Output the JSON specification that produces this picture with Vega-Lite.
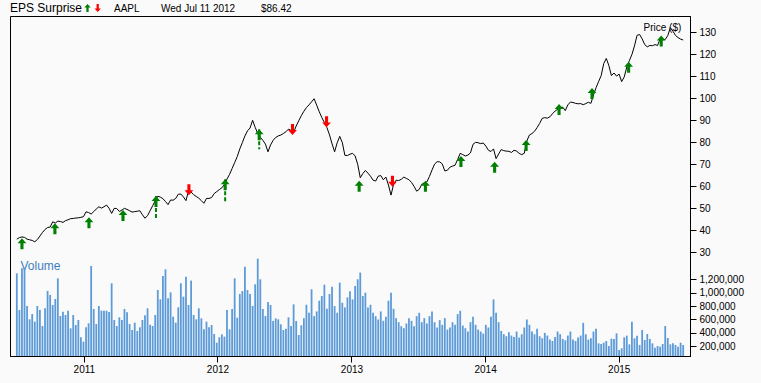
{
"$schema": "https://vega.github.io/schema/vega-lite/v6.json",
"width": 680, "height": 340,
"autosize": {"type": "none"},
"padding": {"left": 10, "top": 16, "right": 71, "bottom": 27},
"background": "#fafafa",
"config": {
 "view": {"stroke": "#000", "strokeWidth": 1},
 "font": "Liberation Sans",
 "axis": {"labelFont": "Liberation Sans", "labelFontSize": 10, "labelColor": "#000", "tickColor": "#000", "domainColor": "#000", "tickSize": 6, "labelPadding": 3, "grid": false, "titleFont": "Liberation Sans", "titleFontWeight": "normal"}
},
"datasets": {
"weekly": [
{"date":"2010-07-02","close":36.0,"volume":1289000},
{"date":"2010-07-09","close":36.7,"volume":742000},
{"date":"2010-07-16","close":37.0,"volume":1364000},
{"date":"2010-07-23","close":36.8,"volume":1374000},
{"date":"2010-07-30","close":36.0,"volume":801500},
{"date":"2010-08-06","close":35.7,"volume":602500},
{"date":"2010-08-13","close":35.4,"volume":682000},
{"date":"2010-08-20","close":34.8,"volume":568000},
{"date":"2010-08-27","close":35.8,"volume":801500},
{"date":"2010-09-03","close":37.4,"volume":742000},
{"date":"2010-09-10","close":39.0,"volume":503000},
{"date":"2010-09-17","close":40.4,"volume":767000},
{"date":"2010-09-24","close":41.3,"volume":1025000},
{"date":"2010-10-01","close":41.5,"volume":966000},
{"date":"2010-10-08","close":43.9,"volume":816000},
{"date":"2010-10-15","close":43.3,"volume":906000},
{"date":"2010-10-22","close":44.2,"volume":1214000},
{"date":"2010-10-29","close":44.0,"volume":652000},
{"date":"2010-11-05","close":43.6,"volume":717000},
{"date":"2010-11-12","close":44.4,"volume":667000},
{"date":"2010-11-19","close":44.8,"volume":732000},
{"date":"2010-11-26","close":45.3,"volume":468000},
{"date":"2010-12-03","close":45.4,"volume":667000},
{"date":"2010-12-10","close":45.6,"volume":518000},
{"date":"2010-12-17","close":45.7,"volume":592500},
{"date":"2010-12-24","close":45.9,"volume":334000},
{"date":"2010-12-31","close":46.2,"volume":269000},
{"date":"2011-01-07","close":48.4,"volume":483000},
{"date":"2011-01-14","close":48.1,"volume":543000},
{"date":"2011-01-21","close":47.4,"volume":1398500},
{"date":"2011-01-28","close":48.5,"volume":757000},
{"date":"2011-02-04","close":49.7,"volume":533000},
{"date":"2011-02-11","close":50.7,"volume":801500},
{"date":"2011-02-18","close":50.1,"volume":732000},
{"date":"2011-02-25","close":50.7,"volume":732000},
{"date":"2011-03-04","close":51.5,"volume":732000},
{"date":"2011-03-11","close":50.0,"volume":712000},
{"date":"2011-03-18","close":47.7,"volume":1140000},
{"date":"2011-03-25","close":50.0,"volume":592500},
{"date":"2011-04-01","close":49.9,"volume":503000},
{"date":"2011-04-08","close":48.6,"volume":632000},
{"date":"2011-04-15","close":49.2,"volume":592500},
{"date":"2011-04-22","close":50.0,"volume":757000},
{"date":"2011-04-29","close":49.5,"volume":707000},
{"date":"2011-05-06","close":48.9,"volume":533000},
{"date":"2011-05-13","close":48.3,"volume":443000},
{"date":"2011-05-20","close":48.5,"volume":553000},
{"date":"2011-05-27","close":48.7,"volume":428000},
{"date":"2011-06-03","close":48.9,"volume":483000},
{"date":"2011-06-10","close":47.1,"volume":592500},
{"date":"2011-06-17","close":45.5,"volume":662000},
{"date":"2011-06-24","close":46.7,"volume":767000},
{"date":"2011-07-01","close":48.9,"volume":523000},
{"date":"2011-07-08","close":51.2,"volume":503000},
{"date":"2011-07-15","close":53.4,"volume":667000},
{"date":"2011-07-22","close":55.5,"volume":1040000},
{"date":"2011-07-29","close":55.1,"volume":901000},
{"date":"2011-08-05","close":54.4,"volume":1249000},
{"date":"2011-08-12","close":53.1,"volume":1349000},
{"date":"2011-08-19","close":51.7,"volume":916000},
{"date":"2011-08-26","close":53.8,"volume":1005500},
{"date":"2011-09-02","close":53.7,"volume":642000},
{"date":"2011-09-09","close":54.5,"volume":553000},
{"date":"2011-09-16","close":56.4,"volume":782000},
{"date":"2011-09-23","close":56.5,"volume":1140000},
{"date":"2011-09-30","close":55.2,"volume":941000},
{"date":"2011-10-07","close":53.5,"volume":1239000},
{"date":"2011-10-14","close":58.0,"volume":816000},
{"date":"2011-10-21","close":57.4,"volume":1180000},
{"date":"2011-10-28","close":56.2,"volume":667000},
{"date":"2011-11-04","close":55.4,"volume":602500},
{"date":"2011-11-11","close":54.6,"volume":767000},
{"date":"2011-11-18","close":53.5,"volume":617000},
{"date":"2011-11-25","close":52.3,"volume":453000},
{"date":"2011-12-02","close":54.5,"volume":568000},
{"date":"2011-12-09","close":54.5,"volume":483000},
{"date":"2011-12-16","close":54.9,"volume":518000},
{"date":"2011-12-23","close":56.7,"volume":384000},
{"date":"2011-12-30","close":57.6,"volume":254000},
{"date":"2012-01-06","close":58.5,"volume":334000},
{"date":"2012-01-13","close":59.3,"volume":379000},
{"date":"2012-01-20","close":60.8,"volume":344000},
{"date":"2012-01-27","close":63.3,"volume":742000},
{"date":"2012-02-03","close":65.4,"volume":453000},
{"date":"2012-02-10","close":68.1,"volume":757000},
{"date":"2012-02-17","close":70.8,"volume":1214000},
{"date":"2012-02-24","close":73.5,"volume":627000},
{"date":"2012-03-02","close":77.0,"volume":981000},
{"date":"2012-03-09","close":79.9,"volume":1025000},
{"date":"2012-03-16","close":82.9,"volume":1388500},
{"date":"2012-03-23","close":85.2,"volume":1040000},
{"date":"2012-03-30","close":86.5,"volume":981000},
{"date":"2012-04-06","close":90.0,"volume":801500},
{"date":"2012-04-13","close":86.8,"volume":1125000},
{"date":"2012-04-20","close":84.0,"volume":1508000},
{"date":"2012-04-27","close":82.3,"volume":1199500},
{"date":"2012-05-04","close":80.9,"volume":757000},
{"date":"2012-05-11","close":79.2,"volume":652000},
{"date":"2012-05-18","close":75.7,"volume":861000},
{"date":"2012-05-25","close":78.8,"volume":816000},
{"date":"2012-06-01","close":80.9,"volume":578000},
{"date":"2012-06-08","close":82.2,"volume":617000},
{"date":"2012-06-15","close":82.9,"volume":602500},
{"date":"2012-06-22","close":83.3,"volume":528000},
{"date":"2012-06-29","close":84.0,"volume":443000},
{"date":"2012-07-06","close":84.8,"volume":463000},
{"date":"2012-07-13","close":86.0,"volume":632000},
{"date":"2012-07-20","close":85.4,"volume":503000},
{"date":"2012-07-27","close":84.5,"volume":826000},
{"date":"2012-08-03","close":87.4,"volume":578000},
{"date":"2012-08-10","close":89.8,"volume":369000},
{"date":"2012-08-17","close":92.1,"volume":513000},
{"date":"2012-08-24","close":94.1,"volume":620000},
{"date":"2012-08-31","close":95.8,"volume":820000},
{"date":"2012-09-07","close":97.0,"volume":700000},
{"date":"2012-09-14","close":98.4,"volume":1050000},
{"date":"2012-09-21","close":99.8,"volume":650000},
{"date":"2012-09-28","close":96.9,"volume":720000},
{"date":"2012-10-05","close":93.9,"volume":880000},
{"date":"2012-10-12","close":91.3,"volume":950000},
{"date":"2012-10-19","close":89.0,"volume":1120000},
{"date":"2012-10-26","close":86.7,"volume":760000},
{"date":"2012-11-02","close":83.4,"volume":980000},
{"date":"2012-11-09","close":79.3,"volume":1090000},
{"date":"2012-11-16","close":75.7,"volume":800000},
{"date":"2012-11-23","close":79.8,"volume":700000},
{"date":"2012-11-30","close":82.7,"volume":1150000},
{"date":"2012-12-07","close":79.9,"volume":850000},
{"date":"2012-12-14","close":74.1,"volume":780000},
{"date":"2012-12-21","close":74.0,"volume":930000},
{"date":"2012-12-28","close":74.6,"volume":1020000},
{"date":"2013-01-04","close":75.0,"volume":900000},
{"date":"2013-01-11","close":73.8,"volume":1100000},
{"date":"2013-01-18","close":70.0,"volume":1200000},
{"date":"2013-01-25","close":63.9,"volume":1300000},
{"date":"2013-02-01","close":65.8,"volume":950000},
{"date":"2013-02-08","close":67.2,"volume":1000000},
{"date":"2013-02-15","close":66.0,"volume":780000},
{"date":"2013-02-22","close":64.6,"volume":820000},
{"date":"2013-03-01","close":62.8,"volume":700000},
{"date":"2013-03-08","close":62.4,"volume":650000},
{"date":"2013-03-15","close":64.6,"volume":600000},
{"date":"2013-03-22","close":64.9,"volume":720000},
{"date":"2013-03-29","close":63.0,"volume":580000},
{"date":"2013-04-05","close":64.2,"volume":640000},
{"date":"2013-04-12","close":60.6,"volume":880000},
{"date":"2013-04-19","close":56.0,"volume":1000000},
{"date":"2013-04-26","close":60.9,"volume":760000},
{"date":"2013-05-03","close":62.8,"volume":620000},
{"date":"2013-05-10","close":62.6,"volume":560000},
{"date":"2013-05-17","close":63.2,"volume":500000},
{"date":"2013-05-24","close":64.2,"volume":470000},
{"date":"2013-05-31","close":63.6,"volume":540000},
{"date":"2013-06-07","close":63.0,"volume":620000},
{"date":"2013-06-14","close":61.8,"volume":580000},
{"date":"2013-06-21","close":60.0,"volume":500000},
{"date":"2013-06-28","close":57.8,"volume":650000},
{"date":"2013-07-05","close":58.6,"volume":700000},
{"date":"2013-07-12","close":60.9,"volume":560000},
{"date":"2013-07-19","close":61.6,"volume":620000},
{"date":"2013-07-26","close":62.0,"volume":540000},
{"date":"2013-08-02","close":64.5,"volume":650000},
{"date":"2013-08-09","close":67.4,"volume":720000},
{"date":"2013-08-16","close":70.1,"volume":560000},
{"date":"2013-08-23","close":71.2,"volume":480000},
{"date":"2013-08-30","close":71.1,"volume":590000},
{"date":"2013-09-06","close":70.2,"volume":520000},
{"date":"2013-09-13","close":67.0,"volume":620000},
{"date":"2013-09-20","close":67.3,"volume":450000},
{"date":"2013-09-27","close":68.7,"volume":480000},
{"date":"2013-10-04","close":69.2,"volume":560000},
{"date":"2013-10-11","close":69.6,"volume":520000},
{"date":"2013-10-18","close":72.2,"volume":680000},
{"date":"2013-10-25","close":75.0,"volume":730000},
{"date":"2013-11-01","close":74.4,"volume":510000},
{"date":"2013-11-08","close":73.8,"volume":470000},
{"date":"2013-11-15","close":74.2,"volume":420000},
{"date":"2013-11-22","close":75.2,"volume":560000},
{"date":"2013-11-29","close":79.1,"volume":640000},
{"date":"2013-12-06","close":80.0,"volume":520000},
{"date":"2013-12-13","close":79.8,"volume":450000},
{"date":"2013-12-20","close":79.4,"volume":420000},
{"date":"2013-12-27","close":79.7,"volume":390000},
{"date":"2014-01-03","close":78.3,"volume":520000},
{"date":"2014-01-10","close":76.4,"volume":480000},
{"date":"2014-01-17","close":75.8,"volume":640000},
{"date":"2014-01-24","close":77.0,"volume":900000},
{"date":"2014-01-31","close":72.6,"volume":700000},
{"date":"2014-02-07","close":74.7,"volume":560000},
{"date":"2014-02-14","close":76.7,"volume":430000},
{"date":"2014-02-21","close":76.2,"volume":380000},
{"date":"2014-02-28","close":76.0,"volume":350000},
{"date":"2014-03-07","close":75.9,"volume":410000},
{"date":"2014-03-14","close":75.4,"volume":360000},
{"date":"2014-03-21","close":76.4,"volume":340000},
{"date":"2014-03-28","close":76.0,"volume":420000},
{"date":"2014-04-04","close":75.0,"volume":330000},
{"date":"2014-04-11","close":74.4,"volume":380000},
{"date":"2014-04-18","close":75.0,"volume":480000},
{"date":"2014-04-25","close":80.6,"volume":600000},
{"date":"2014-05-02","close":83.3,"volume":520000},
{"date":"2014-05-09","close":84.0,"volume":420000},
{"date":"2014-05-16","close":85.0,"volume":380000},
{"date":"2014-05-23","close":86.7,"volume":460000},
{"date":"2014-05-30","close":88.6,"volume":350000},
{"date":"2014-06-06","close":90.9,"volume":320000},
{"date":"2014-06-13","close":91.2,"volume":400000},
{"date":"2014-06-20","close":91.0,"volume":360000},
{"date":"2014-06-27","close":91.6,"volume":300000},
{"date":"2014-07-04","close":93.0,"volume":280000},
{"date":"2014-07-11","close":94.2,"volume":340000},
{"date":"2014-07-18","close":95.0,"volume":420000},
{"date":"2014-07-25","close":95.7,"volume":380000},
{"date":"2014-08-01","close":96.0,"volume":310000},
{"date":"2014-08-08","close":94.4,"volume":290000},
{"date":"2014-08-15","close":97.0,"volume":360000},
{"date":"2014-08-22","close":98.3,"volume":420000},
{"date":"2014-08-29","close":98.1,"volume":300000},
{"date":"2014-09-05","close":97.7,"volume":280000},
{"date":"2014-09-12","close":97.5,"volume":330000},
{"date":"2014-09-19","close":97.6,"volume":360000},
{"date":"2014-09-26","close":97.1,"volume":550000},
{"date":"2014-10-03","close":97.6,"volume":380000},
{"date":"2014-10-10","close":98.2,"volume":300000},
{"date":"2014-10-17","close":97.7,"volume":320000},
{"date":"2014-10-24","close":101.5,"volume":420000},
{"date":"2014-10-31","close":104.8,"volume":460000},
{"date":"2014-11-07","close":107.6,"volume":244000},
{"date":"2014-11-14","close":110.3,"volume":234000},
{"date":"2014-11-21","close":115.8,"volume":254000},
{"date":"2014-11-28","close":118.1,"volume":279000},
{"date":"2014-12-05","close":114.9,"volume":204000},
{"date":"2014-12-12","close":110.3,"volume":314000},
{"date":"2014-12-19","close":111.5,"volume":309000},
{"date":"2014-12-26","close":110.1,"volume":393000},
{"date":"2015-01-02","close":111.0,"volume":145000},
{"date":"2015-01-09","close":107.6,"volume":170000},
{"date":"2015-01-16","close":109.7,"volume":334000},
{"date":"2015-01-23","close":114.2,"volume":359000},
{"date":"2015-01-30","close":117.1,"volume":229000},
{"date":"2015-02-06","close":119.9,"volume":568000},
{"date":"2015-02-13","close":123.8,"volume":319000},
{"date":"2015-02-20","close":128.6,"volume":359000},
{"date":"2015-02-27","close":129.0,"volume":219000},
{"date":"2015-03-06","close":127.0,"volume":443000},
{"date":"2015-03-13","close":124.4,"volume":294000},
{"date":"2015-03-20","close":123.4,"volume":384000},
{"date":"2015-03-27","close":124.0,"volume":309000},
{"date":"2015-04-03","close":123.9,"volume":244000},
{"date":"2015-04-10","close":124.4,"volume":180000},
{"date":"2015-04-17","close":124.0,"volume":204000},
{"date":"2015-04-24","close":127.0,"volume":194000},
{"date":"2015-05-01","close":126.6,"volume":234000},
{"date":"2015-05-08","close":126.7,"volume":503000},
{"date":"2015-05-15","close":128.5,"volume":324000},
{"date":"2015-05-22","close":132.1,"volume":229000},
{"date":"2015-05-29","close":130.5,"volume":244000},
{"date":"2015-06-05","close":128.6,"volume":219000},
{"date":"2015-06-12","close":127.6,"volume":194000},
{"date":"2015-06-19","close":126.9,"volume":254000},
{"date":"2015-06-26","close":126.5,"volume":219000}
],
"eps": [
{"date":"2010-07-16","price":36.4,"dir":"up"},
{"date":"2010-10-14","price":43.2,"dir":"up"},
{"date":"2011-01-15","price":45.9,"dir":"up"},
{"date":"2011-04-18","price":49.2,"dir":"up"},
{"date":"2011-07-17","price":55.6,"dir":"up","low":44.7},
{"date":"2011-10-15","price":56.0,"dir":"down"},
{"date":"2012-01-22","price":63.2,"dir":"up","low":52.3},
{"date":"2012-04-24","price":85.9,"dir":"up","low":76.8},
{"date":"2012-07-24","price":83.3,"dir":"down"},
{"date":"2012-10-25","price":86.8,"dir":"down"},
{"date":"2013-01-22","price":62.5,"dir":"up"},
{"date":"2013-04-23","price":59.8,"dir":"down"},
{"date":"2013-07-22","price":62.5,"dir":"up"},
{"date":"2013-10-27","price":73.8,"dir":"up"},
{"date":"2014-01-27","price":71.2,"dir":"up"},
{"date":"2014-04-23","price":81.0,"dir":"up"},
{"date":"2014-07-22","price":97.4,"dir":"up"},
{"date":"2014-10-20","price":104.7,"dir":"up"},
{"date":"2015-01-28","price":116.6,"dir":"up"},
{"date":"2015-04-27","price":128.5,"dir":"up"}
],
"header": [
{"title":"EPS Surprise","symbol":"AAPL","day":"Wed Jul 11 2012","close":86.42}
]
},
"layer": [
{
 "data": {"name": "weekly"},
 "mark": {"type": "bar", "width": 1.8, "color": "#5d9bd8"},
 "encoding": {
  "x": {"field": "date", "type": "temporal",
   "scale": {"type": "utc", "domain": [{"year": 2010, "month": 6, "date": 27, "utc": true}, {"year": 2015, "month": 7, "date": 1, "utc": true}]},
   "axis": {"values": [{"year": 2011, "month": 1, "date": 1, "utc": true}, {"year": 2012, "month": 1, "date": 1, "utc": true}, {"year": 2013, "month": 1, "date": 1, "utc": true}, {"year": 2014, "month": 1, "date": 1, "utc": true}, {"year": 2015, "month": 1, "date": 1, "utc": true}], "format": "%Y", "title": null, "labelPadding": 2}},
  "y": {"field": "volume", "type": "quantitative",
   "scale": {"domain": [55000, 5129627], "zero": false, "nice": false},
   "axis": {"orient": "right", "values": [200000, 400000, 600000, 800000, 1000000, 1200000], "format": ",d", "title": "Volume", "titleAngle": 0, "titleX": -670, "titleY": 249, "titleAlign": "left", "titleBaseline": "middle", "titleColor": "#3c7fc2", "titleFontSize": 12}},
  "y2": {"datum": 55000}
 }
},
{
 "layer": [
  {
   "data": {"name": "weekly"},
   "mark": {"type": "line", "color": "#000", "strokeWidth": 1},
   "encoding": {
    "x": {"field": "date", "type": "temporal",
     "axis": {"values": [{"year": 2011, "month": 1, "date": 1, "utc": true}, {"year": 2012, "month": 1, "date": 1, "utc": true}, {"year": 2013, "month": 1, "date": 1, "utc": true}, {"year": 2014, "month": 1, "date": 1, "utc": true}, {"year": 2015, "month": 1, "date": 1, "utc": true}], "format": "%Y", "title": null, "labelPadding": 2}},
    "y": {"field": "close", "type": "quantitative",
     "scale": {"domain": [-17.1, 137.4], "zero": false, "nice": false},
     "axis": {"orient": "right", "values": [30, 40, 50, 60, 70, 80, 90, 100, 110, 120, 130], "title": "Price ($)", "titleAngle": 0, "titleX": -47, "titleY": 11, "titleAlign": "left", "titleBaseline": "middle", "titleFontSize": 10, "titleColor": "#000"}}
   }
  },
  {
   "data": {"name": "eps"},
   "transform": [{"filter": "isValid(datum.low)"}],
   "mark": {"type": "rule", "color": "#008000", "strokeWidth": 2, "strokeDash": [4, 2]},
   "encoding": {
    "x": {"field": "date", "type": "temporal",
     "axis": {"values": [{"year": 2011, "month": 1, "date": 1, "utc": true}, {"year": 2012, "month": 1, "date": 1, "utc": true}, {"year": 2013, "month": 1, "date": 1, "utc": true}, {"year": 2014, "month": 1, "date": 1, "utc": true}, {"year": 2015, "month": 1, "date": 1, "utc": true}], "format": "%Y", "title": null, "labelPadding": 2}},
    "y": {"field": "price", "type": "quantitative",
     "axis": {"orient": "right", "values": [30, 40, 50, 60, 70, 80, 90, 100, 110, 120, 130], "title": "Price ($)", "titleAngle": 0, "titleX": -47, "titleY": 11, "titleAlign": "left", "titleBaseline": "middle", "titleFontSize": 10, "titleColor": "#000"}},
    "y2": {"field": "low"}
   }
  },
  {
   "data": {"name": "eps"},
   "mark": {"type": "point", "filled": true, "opacity": 1, "size": 121, "strokeWidth": 0},
   "encoding": {
    "x": {"field": "date", "type": "temporal",
     "axis": {"values": [{"year": 2011, "month": 1, "date": 1, "utc": true}, {"year": 2012, "month": 1, "date": 1, "utc": true}, {"year": 2013, "month": 1, "date": 1, "utc": true}, {"year": 2014, "month": 1, "date": 1, "utc": true}, {"year": 2015, "month": 1, "date": 1, "utc": true}], "format": "%Y", "title": null, "labelPadding": 2}},
    "y": {"field": "price", "type": "quantitative",
     "axis": {"orient": "right", "values": [30, 40, 50, 60, 70, 80, 90, 100, 110, 120, 130], "title": "Price ($)", "titleAngle": 0, "titleX": -47, "titleY": 11, "titleAlign": "left", "titleBaseline": "middle", "titleFontSize": 10, "titleColor": "#000"}},
    "shape": {"field": "dir", "type": "nominal", "legend": null, "scale": {"domain": ["up", "down"], "range": ["M0,0L0.8,0.9L0.28,0.9L0.28,2L-0.28,2L-0.28,0.9L-0.8,0.9Z", "M0,0L0.8,-0.9L0.28,-0.9L0.28,-2L-0.28,-2L-0.28,-0.9L-0.8,-0.9Z"]}},
    "color": {"field": "dir", "type": "nominal", "legend": null, "scale": {"domain": ["up", "down"], "range": ["#008000", "#ff0000"]}}
   }
  }
 ]
},
{
 "data": {"name": "header"},
 "mark": {"type": "text", "x": 0, "y": -4, "align": "left", "baseline": "alphabetic", "fontSize": 12, "font": "Liberation Sans", "color": "#000"},
 "encoding": {"text": {"field": "title"}}
},
{
 "data": {"name": "header"},
 "mark": {"type": "point", "x": 77.5, "y": -12, "shape": "M0,0L0.8,0.9L0.28,0.9L0.28,2L-0.28,2L-0.28,0.9L-0.8,0.9Z", "size": 64, "filled": true, "opacity": 1, "color": "#008000", "strokeWidth": 0}
},
{
 "data": {"name": "header"},
 "mark": {"type": "point", "x": 87.7, "y": -4, "shape": "M0,0L0.8,-0.9L0.28,-0.9L0.28,-2L-0.28,-2L-0.28,-0.9L-0.8,-0.9Z", "size": 64, "filled": true, "opacity": 1, "color": "#ff0000", "strokeWidth": 0}
},
{
 "data": {"name": "header"},
 "mark": {"type": "text", "x": 104, "y": -4, "align": "left", "baseline": "alphabetic", "fontSize": 10, "font": "Liberation Sans", "color": "#000"},
 "encoding": {"text": {"field": "symbol"}}
},
{
 "data": {"name": "header"},
 "mark": {"type": "text", "x": 151, "y": -4, "align": "left", "baseline": "alphabetic", "fontSize": 10, "font": "Liberation Sans", "color": "#000"},
 "encoding": {"text": {"field": "day"}}
},
{
 "data": {"name": "header"},
 "mark": {"type": "text", "x": 251, "y": -4, "align": "left", "baseline": "alphabetic", "fontSize": 10, "font": "Liberation Sans", "color": "#000"},
 "encoding": {"text": {"field": "close", "type": "quantitative", "format": "$.2f"}}
}
],
"resolve": {"scale": {"y": "independent"}, "axis": {"y": "independent"}}
}
